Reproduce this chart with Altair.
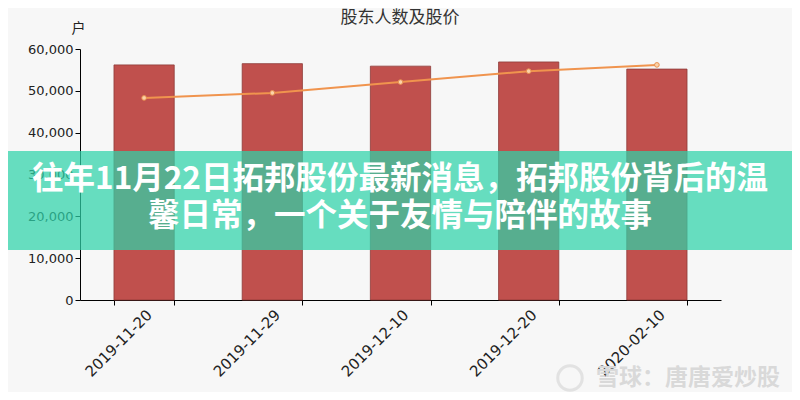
import altair as alt
import pandas as pd

dates = ["2019-11-20", "2019-11-29", "2019-12-10", "2019-12-20", "2020-02-10"]
holders = [56200, 56500, 55900, 56900, 55200]
price = [4.83, 4.95, 5.21, 5.47, 5.62]

title_text = "股东人数及股价"
left_unit = "户"
right_unit = "元"
banner_lines = ["往年11月22日拓邦股份最新消息，拓邦股份背后的温", "馨日常，一个关于友情与陪伴的故事"]
watermark = "雪球：唐唐爱炒股"

df = pd.DataFrame({"date": dates, "holders": holders, "price": price})
one = pd.DataFrame({"k": [0]})

FONT = "DejaVu Sans"
CJK = "Noto Sans CJK SC"

xenc = alt.X(
    "date:N",
    sort=dates,
    scale=alt.Scale(paddingInner=0.53, paddingOuter=0.265),
    axis=alt.Axis(
        title=None, labelAngle=-45, labelFontSize=15, labelFont=FONT,
        labelColor="#222", tickBand="extent", tickColor="#000", domainColor="#000",
        tickSize=5, labelPadding=2,
    ),
)

bars = alt.Chart(df).mark_bar(color="#c0504d", stroke="#8e3b39", strokeWidth=0.8).encode(
    x=xenc,
    y=alt.Y(
        "holders:Q",
        scale=alt.Scale(domain=[0, 60000]),
        axis=alt.Axis(
            orient="left", title=left_unit, values=[0, 10000, 20000, 30000, 40000, 50000, 60000],
            labelExpr="format(datum.value, ',')", grid=False, labelFontSize=13, labelFont=FONT,
            labelColor="#222", tickColor="#000", domainColor="#000", tickSize=5,
            titleAngle=0, titleX=-2, titleY=-14, titleAlign="center", titleFont=CJK,
            titleFontSize=14, titleFontWeight="normal", titleColor="#222",
        ),
    ),
)

line = alt.Chart(df).mark_line(color="#f0944e", strokeWidth=2).encode(
    x=alt.X("date:N", sort=dates),
    y=alt.Y(
        "price:Q",
        scale=alt.Scale(domain=[0, 6]),
        axis=alt.Axis(
            orient="right", title=right_unit, values=[0, 1, 2, 3, 4, 5, 6], grid=False,
            labelFontSize=13, labelFont=FONT, labelColor="#222", tickColor="#000",
            domainColor="#000", tickSize=5,
            titleAngle=0, titleX=-2, titleY=-14, titleAlign="center", titleFont=CJK,
            titleFontSize=14, titleFontWeight="normal", titleColor="#222",
        ),
    ),
)

pts = alt.Chart(df).mark_point(filled=True, fill="#fbd3a8", stroke="#e89050", strokeWidth=1, size=22, opacity=1).encode(
    x=alt.X("date:N", sort=dates),
    y=alt.Y("price:Q", scale=alt.Scale(domain=[0, 6]), axis=None),
)

base = alt.layer(bars, alt.layer(line, pts)).resolve_scale(y="independent")

title = alt.Chart(one).mark_text(text=title_text, font=CJK, fontSize=17, color="#333", align="center", baseline="middle").encode(
    x=alt.value(320), y=alt.value(-31)
)

banner = alt.Chart(one).mark_rect(color="#2ed2a9", opacity=0.72).encode(
    x=alt.value(-72), x2=alt.value(712), y=alt.value(102), y2=alt.value(201)
)

t1 = alt.Chart(one).mark_text(text=banner_lines[0], font=CJK, fontSize=31.5, fontWeight="bold", color="#ffffff", align="center", baseline="middle").encode(
    x=alt.value(320), y=alt.value(131)
)
t2 = alt.Chart(one).mark_text(text=banner_lines[1], font=CJK, fontSize=31.5, fontWeight="bold", color="#ffffff", align="center", baseline="middle").encode(
    x=alt.value(320), y=alt.value(168)
)

logo = alt.Chart(one).mark_point(shape="circle", filled=False, stroke="#dadada", strokeWidth=3, size=600).encode(
    x=alt.value(490), y=alt.value(329)
)

wm = alt.Chart(one).mark_text(text=watermark, font=CJK, fontSize=23, fontWeight="bold", color="#d9d9d9", align="center", baseline="middle").encode(
    x=alt.value(608), y=alt.value(329)
)

chart = alt.layer(base, title, banner, t1, t2, logo, wm).properties(
    width=641, height=251,
    padding={"left": 72, "top": 41, "right": 71, "bottom": 92},
    autosize=alt.AutoSizeParams(type="none"),
    background="#f7f7f7",
).configure_view(stroke=None)

chart.save("out.html", embed_options={"renderer": "svg", "actions": False})
